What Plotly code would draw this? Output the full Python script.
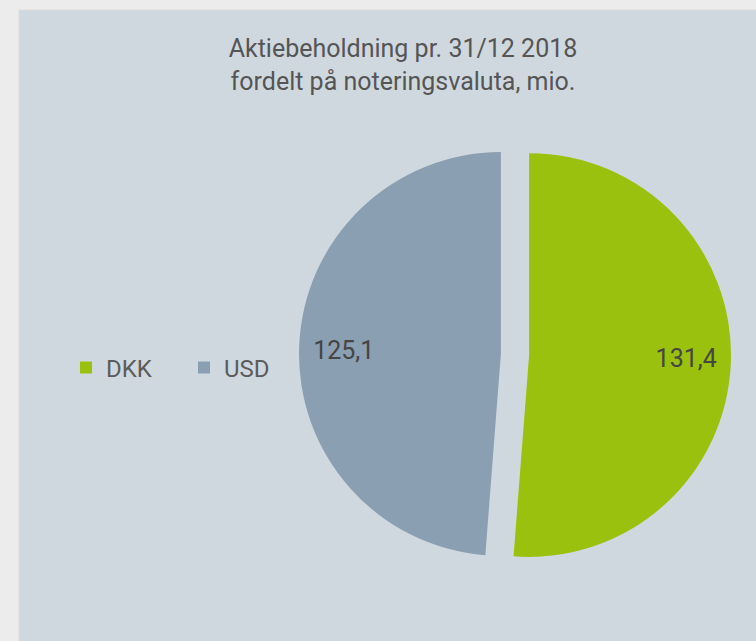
import plotly.graph_objects as go

# Aktiebeholdning pr. 31/12 2018 fordelt på noteringsvaluta (mio.)
valutaer = ['DKK', 'USD']
beloeb = [131.4, 125.1]
farver = ['#9bc10f', '#8b9fb3']

W, H = 756, 641
FONT = 'Roboto, Liberation Sans, sans-serif'

# figure spaces push the value labels out towards the rim, like the original
pad = '\u2007' * 8
tekst_skabelon = [pad + '%{value:.1f}', '%{value:.1f}' + pad]

fig = go.Figure()

fig.add_trace(go.Pie(
    labels=valutaer,
    values=beloeb,
    marker=dict(colors=farver, line=dict(width=0)),
    sort=False,
    direction='clockwise',
    rotation=0,
    pull=[0.07, 0.07],
    texttemplate=tekst_skabelon,
    textposition='inside',
    insidetextorientation='horizontal',
    textfont=dict(family=FONT, size=25, color='#454545'),
    domain=dict(x=[299 / W, 731 / W], y=[(H - 570.5) / H, (H - 138.5) / H]),
    hoverinfo='label+value+percent',
))

# the light panel behind the chart
fig.add_shape(
    type='rect', xref='paper', yref='paper',
    x0=19 / W, x1=1.01, y0=-0.01, y1=1 - 10 / H,
    fillcolor='#d0d8df', line=dict(color='#dcdcdc', width=1),
    layer='below',
)

fig.update_layout(
    width=W,
    height=H,
    margin=dict(l=0, r=0, t=0, b=0),
    paper_bgcolor='#ececec',
    plot_bgcolor='#ececec',
    separators=',.',
    title=dict(
        text='Aktiebeholdning pr. 31/12 2018<br>fordelt på noteringsvaluta, mio.',
        x=403 / W, xanchor='center',
        y=1 - 57 / H, yanchor='top',
        font=dict(family=FONT, size=25, color='#555555'),
    ),
    legend=dict(
        orientation='h',
        x=66 / W, xanchor='left',
        y=1 - 368 / H, yanchor='middle',
        font=dict(family=FONT, size=24, color='#5c5c5c'),
        bgcolor='rgba(0,0,0,0)',
        entrywidth=73, entrywidthmode='pixels',
        traceorder='normal',
    ),
    showlegend=True,
)

fig.write_html('out.html', config={'displayModeBar': False},
               post_script="document.body.style.margin='0';")
